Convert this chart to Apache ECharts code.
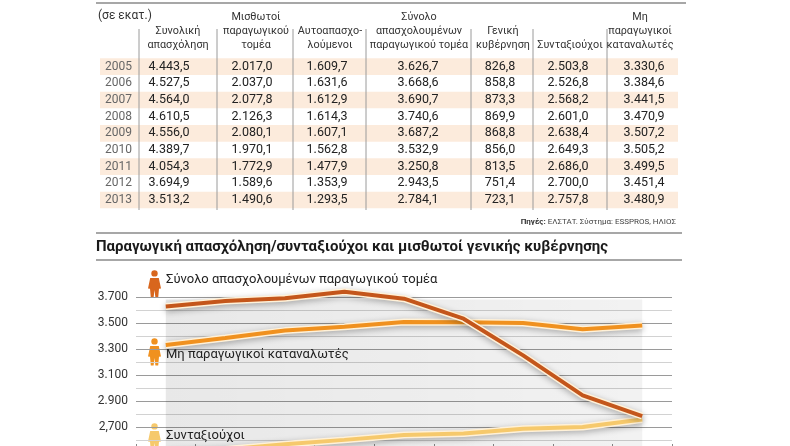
<!DOCTYPE html>
<html>
<head>
<meta charset="UTF-8">
<script src="https://cdn.jsdelivr.net/npm/echarts@6/dist/echarts.min.js"></script>
<style>
  html, body { margin: 0; padding: 0; background: #fff; overflow: hidden; }
  #main { width: 790px; height: 470px; }
</style>
</head>
<body>
<div id="main"></div>
<script>
    // table data (σε εκατ.)
    var years = ['2005', '2006', '2007', '2008', '2009', '2010', '2011', '2012', '2013'];
    var totalEmployment = [4443.5, 4527.5, 4564.0, 4610.5, 4556.0, 4389.7, 4054.3, 3694.9, 3513.2];
    var wageProductive = [2017.0, 2037.0, 2077.8, 2126.3, 2080.1, 1970.1, 1772.9, 1589.6, 1490.6];
    var selfEmployed = [1609.7, 1631.6, 1612.9, 1614.3, 1607.1, 1562.8, 1477.9, 1353.9, 1293.5];
    var productiveTotal = [3626.7, 3668.6, 3690.7, 3740.6, 3687.2, 3532.9, 3250.8, 2943.5, 2784.1];
    var generalGov = [826.8, 858.8, 873.3, 869.9, 868.8, 856.0, 813.5, 751.4, 723.1];
    var pensioners = [2503.8, 2526.8, 2568.2, 2601.0, 2638.4, 2649.3, 2686.0, 2700.0, 2757.8];
    var nonProductive = [3330.6, 3384.6, 3441.5, 3470.9, 3507.2, 3505.2, 3499.5, 3451.4, 3480.9];

    var headers = [
        ['', 'Συνολική', 'απασχόληση'],
        ['Μισθωτοί', 'παραγωγικού', 'τομέα'],
        ['', 'Αυτοαπασχο-', 'λούμενοι'],
        ['Σύνολο', 'απασχολουμένων', 'παραγωγικού τομέα'],
        ['', 'Γενική', 'κυβέρνηση'],
        ['', '', 'Συνταξιούχοι'],
        ['Μη', 'παραγωγικοί', 'καταναλωτές']
    ];

    // chart axis ticks
    var yTickValues = [2500, 2700, 2900, 3100, 3300, 3500, 3700];
    var yTickLabels = ['2.500', '2,700', '2.900', '3.100', '3.300', '3.500', '3.700'];

    var seriesNames = ['Σύνολο απασχολουμένων παραγωγικού τομέα', 'Μη παραγωγικοί καταναλωτές', 'Συνταξιούχοι'];

    var FONT = 'Roboto, "Noto Sans", sans-serif';
    var colDark = '#c4561b', colMid = '#f0911f', colLight = '#f6c96c';

    function fmt(v) {
        var s = v.toFixed(1).split('.');
        return s[0].replace(/\B(?=(\d{3})+(?!\d))/g, '.') + ',' + s[1];
    }

    function txt(x, y, text, size, color, align, weight) {
        return {
            type: 'text', x: x, y: y, z: 10, silent: true,
            style: {
                text: text, fontSize: size, fontFamily: FONT, fill: color,
                fontWeight: weight || 'normal',
                align: align, textAlign: align,
                verticalAlign: 'middle', textVerticalAlign: 'middle'
            }
        };
    }

    function hline(x1, x2, y, color, w) {
        return {
            type: 'line', z: 5, silent: true,
            shape: {x1: x1, y1: y, x2: x2, y2: y},
            style: {stroke: color, lineWidth: w}
        };
    }

    function person(x, y, color) {
        return {
            type: 'group', x: x, y: y, z: 10, silent: true,
            children: [
                {type: 'circle', shape: {cx: 6.5, cy: 3.4, r: 3.2}, style: {fill: color}},
                {
                    type: 'polygon',
                    shape: {points: [[2.2, 8], [10.8, 8], [13, 18.5], [11, 18.8], [10.2, 27.5], [7.4, 27.5],
                        [6.5, 20], [5.6, 27.5], [2.8, 27.5], [2, 18.8], [0, 18.5]]},
                    style: {fill: color}
                }
            ]
        };
    }

    var graphics = [];
    var rowTop = 58.3, rowH = 16.67;
    var seps = [139, 217, 293, 366, 471, 533, 607];
    var headX = [178, 256, 330, 419, 503, 570, 640];
    var valX = [169, 252, 327, 418, 500, 568, 644];
    var cols = [totalEmployment, wageProductive, selfEmployed, productiveTotal, generalGov, pensioners, nonProductive];

    graphics.push(hline(96, 686, 3, '#8a8a8a', 1.5));
    graphics.push(txt(98, 16, '(σε εκατ.)', 12, '#333', 'left'));

    headers.forEach(function (h, c) {
        h.forEach(function (line, r) {
            if (line) graphics.push(txt(headX[c], 17 + r * 14, line, 10.8, '#333', 'center'));
        });
    });

    years.forEach(function (y, i) {
        var cy = rowTop + rowH * i + rowH / 2;
        if (i % 2 === 0) {
            graphics.push({
                type: 'rect', z: 1, silent: true,
                shape: {x: 100, y: rowTop + rowH * i, width: 578, height: rowH},
                style: {fill: '#fcebdc'}
            });
        }
        graphics.push(txt(132, cy, y, 12, '#666', 'right'));
        cols.forEach(function (arr, c) {
            graphics.push(txt(valX[c], cy, fmt(arr[i]), 12.5, '#222', 'center'));
        });
    });

    seps.forEach(function (x) {
        graphics.push({
            type: 'line', z: 5, silent: true,
            shape: {x1: x, y1: 29, x2: x, y2: 210},
            style: {stroke: '#9a9a9a', lineWidth: 1}
        });
    });

    graphics.push({
        type: 'text', x: 676, y: 222, z: 10, silent: true,
        style: {
            text: '{b|Πηγές:} ΕΛΣΤΑΤ. Σύστημα: ESSPROS, ΗΛΙΟΣ',
            fontSize: 8, fontFamily: FONT, fill: '#444',
            align: 'right', textAlign: 'right', verticalAlign: 'middle', textVerticalAlign: 'middle',
            rich: {b: {fontWeight: 'bold', fontSize: 8, fontFamily: FONT, fill: '#333'}}
        }
    });

    graphics.push(hline(96, 682, 233, '#8a8a8a', 1.5));
    graphics.push(txt(96, 247, 'Παραγωγική απασχόληση/συνταξιούχοι και μισθωτοί γενικής κυβέρνησης', 15, '#1a1a1a', 'left', 'bold'));
    graphics.push(hline(96, 682, 260, '#8a8a8a', 1.5));

    // series labels with person icons
    graphics.push(person(148, 270, '#d8661d'));
    graphics.push(txt(166, 280, seriesNames[0], 13, '#222', 'left'));
    graphics.push(person(148, 338, colMid));
    graphics.push(txt(166, 355, seriesNames[1], 13, '#222', 'left'));
    graphics.push(person(148, 423, colLight));
    graphics.push(txt(166, 436, seriesNames[2], 13, '#222', 'left'));

    function lineSeries(name, data, color) {
        return [{
            name: name + '-halo', type: 'line', data: data, symbol: 'none', clip: false, silent: true,
            lineStyle: {color: '#fff1d8', width: 7, shadowColor: 'rgba(0,0,0,0.3)', shadowBlur: 6, shadowOffsetY: 2}
        }, {
            name: name, type: 'line', data: data, symbol: 'none', clip: false, silent: true,
            lineStyle: {color: color, width: 4}
        }];
    }

    var series = [].concat(
        lineSeries(seriesNames[2], pensioners, colLight),
        lineSeries(seriesNames[1], nonProductive, colMid),
        lineSeries(seriesNames[0], productiveTotal, colDark)
    );

    series[0].markArea = {
        silent: true,
        itemStyle: {
            color: {
                type: 'linear', x: 0, y: 0, x2: 1, y2: 0,
                colorStops: [{offset: 0, color: 'rgba(0,0,0,0.09)'}, {offset: 1, color: 'rgba(0,0,0,0.05)'}]
            }
        },
        data: [[{xAxis: years[0], yAxis: 3680}, {xAxis: years[years.length - 1], yAxis: 2500}]]
    };

    var mychart = echarts.init(document.getElementById('main'));
    var option = {
        animation: false,
        backgroundColor: '#fff',
        grid: {left: 136, top: 297, width: 536, height: 156, outerBoundsMode: 'none', containLabel: false},
        xAxis: {
            type: 'category',
            data: years,
            boundaryGap: true,
            axisLine: {show: true, lineStyle: {color: '#888'}},
            axisTick: {show: true, inside: true, length: 9, lineStyle: {color: '#888'}},
            axisLabel: {show: false},
            splitLine: {show: false}
        },
        yAxis: {
            type: 'value',
            min: 2500,
            max: 3700,
            interval: 200,
            axisLine: {show: false},
            axisTick: {show: false},
            axisLabel: {
                fontSize: 12, fontFamily: FONT, color: '#333', margin: 8,
                padding: [0, 0, 4, 0],
                formatter: function (v) {
                    var i = yTickValues.indexOf(v);
                    return i >= 0 ? yTickLabels[i] : '';
                }
            },
            splitLine: {show: true, lineStyle: {color: '#9a9a9a', width: 1}},
            minorTick: {show: false, splitNumber: 2},
            minorSplitLine: {show: true, lineStyle: {color: '#d2d2d2', width: 1}}
        },
        graphic: graphics,
        series: series
    };
    mychart.setOption(option);
</script>
</body>
</html>
